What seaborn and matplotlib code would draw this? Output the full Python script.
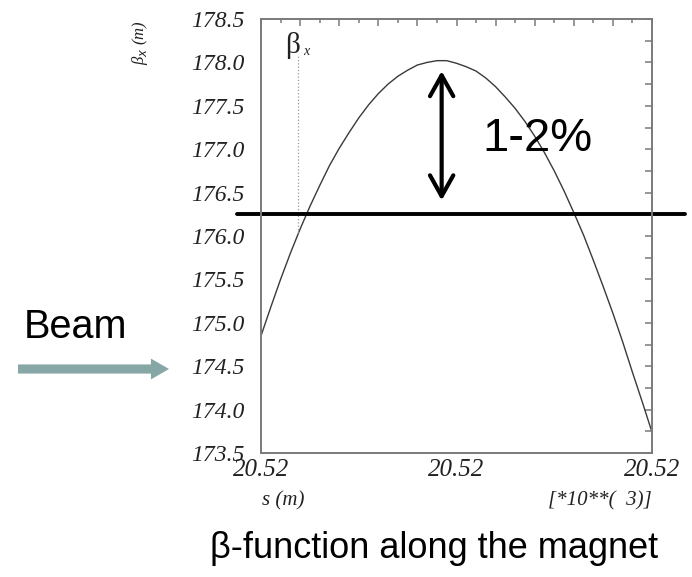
import numpy as np
import pandas as pd
import matplotlib
matplotlib.use("Agg")
import matplotlib.pyplot as plt
import seaborn as sns
from matplotlib.ticker import MultipleLocator, FixedLocator, FormatStrFormatter

# ---- data (s in units of 10**3 m, beta in m) ----
s_frac = [0.000, 0.025, 0.050, 0.075, 0.100, 0.125, 0.150, 0.175, 0.200, 0.225,
          0.250, 0.275, 0.300, 0.325, 0.350, 0.375, 0.400, 0.425, 0.450, 0.475,
          0.500, 0.525, 0.550, 0.575, 0.600, 0.625, 0.650, 0.675, 0.700, 0.725,
          0.750, 0.775, 0.800, 0.825, 0.850, 0.875, 0.900, 0.925, 0.950, 0.975, 1.000]
beta_x = [174.85, 175.18, 175.50, 175.80, 176.08, 176.34, 176.58, 176.81, 177.01, 177.19,
          177.36, 177.51, 177.64, 177.75, 177.84, 177.91, 177.97, 178.00, 178.02, 178.02,
          177.99, 177.95, 177.90, 177.82, 177.72, 177.60, 177.47, 177.32, 177.15, 176.96,
          176.75, 176.52, 176.27, 176.01, 175.72, 175.42, 175.11, 174.78, 174.43, 174.09, 173.74]
s0 = 20.5200
s_span = 0.0010
s_vals = [s0 + f * s_span for f in s_frac]
y_ticks = [173.5, 174.0, 174.5, 175.0, 175.5, 176.0, 176.5, 177.0, 177.5, 178.0, 178.5]
level_line = 176.25
marker_s_frac = 0.095
marker_beta = 176.03

df = pd.DataFrame({"s": s_vals, "beta": beta_x})

sns.set_style("white")
serif = ["Liberation Serif", "DejaVu Serif"]
sans = ["Liberation Sans", "DejaVu Sans"]

fig = plt.figure(figsize=(6.92, 5.77), dpi=100)
ax = fig.add_axes([261/692, 1 - 453/577, (652 - 261)/692, (453 - 19)/577])

sns.lineplot(data=df, x="s", y="beta", ax=ax, color="#3a3a3a", linewidth=1.0)

ax.set_xlim(s0, s0 + s_span)
ax.set_ylim(173.5, 178.5)

spine_col = "#7a7a7a"
for sp in ax.spines.values():
    sp.set_color(spine_col)
    sp.set_linewidth(1.4)

ax.xaxis.set_major_locator(FixedLocator([s0, s0 + s_span/2, s0 + s_span]))
ax.xaxis.set_minor_locator(MultipleLocator(s_span/10))
ax.xaxis.set_major_formatter(FormatStrFormatter("%.2f"))
ax.yaxis.set_major_locator(FixedLocator(y_ticks))
ax.yaxis.set_minor_locator(MultipleLocator(0.25))
ax.yaxis.set_major_formatter(FormatStrFormatter("%.1f"))

ax.tick_params(axis="both", which="both", direction="out", color=spine_col, width=1.1)
ax.tick_params(axis="both", which="major", length=6)
ax.tick_params(axis="both", which="minor", length=6)
ax.tick_params(axis="x", which="major", pad=-2)
ax.tick_params(axis="y", which="major", pad=6)
for lab in ax.get_xticklabels() + ax.get_yticklabels():
    lab.set_family(serif)
    lab.set_style("italic")
    lab.set_color("#222222")
for lab in ax.get_yticklabels():
    lab.set_fontsize(17)
for lab in ax.get_xticklabels():
    lab.set_fontsize(18)

# inward ticks on top/right
secx = ax.secondary_xaxis("top")
secx.xaxis.set_major_locator(MultipleLocator(s_span/10))
secx.xaxis.set_minor_locator(MultipleLocator(s_span/20))
secx.tick_params(which="major", direction="in", length=5, color=spine_col, width=1.1, labeltop=False)
secx.tick_params(which="minor", direction="in", length=3, color=spine_col, width=1.1)
secx.spines["top"].set_visible(False)
secy = ax.secondary_yaxis("right")
secy.yaxis.set_major_locator(MultipleLocator(0.25))
secy.tick_params(direction="in", length=5, color=spine_col, width=1.1, labelright=False)
secy.spines["right"].set_visible(False)

ax.set_xlabel("")
ax.set_ylabel("")

# axis texts
fig.text(262/692, 1 - 501/577, "s (m)", family=serif, style="italic", fontsize=15,
         ha="left", va="center", color="#222222")
fig.text(652/692, 1 - 501/577, "[*10**(  3)]", family=serif, style="italic", fontsize=15,
         ha="right", va="center", color="#222222")
fig.text(140/692, 1 - 43/577, r"β$_x$ (m)", family=serif, style="italic", fontsize=12,
         rotation=90, ha="center", va="center", color="#222222")

# beta_x marker
xm = s0 + marker_s_frac * s_span
ax.plot([xm, xm], [marker_beta, 178.09], color="#9a9a9a", linestyle=":", linewidth=0.9)
ax.text(xm - 0.015 * s_span, 178.19, "β", family=serif, fontsize=21, ha="center", va="center",
        color="#222222")
ax.text(xm + 0.012 * s_span, 178.13, "x", family=serif, style="italic", fontsize=10,
        ha="left", va="center", color="#222222")

# horizontal level line extending beyond axes
ax.axhline(level_line, xmin=(237 - 261)/391, xmax=(685 - 261)/391, color="black",
           linewidth=2.8, clip_on=False)

# double-headed arrow
xa = s0 + 0.462 * s_span
ax.annotate("", xy=(xa, 177.90), xytext=(xa, 176.41),
            arrowprops=dict(arrowstyle="<->,head_length=0.75,head_width=0.42",
                            color="black", lw=3, mutation_scale=20,
                            shrinkA=0, shrinkB=0))
ax.text(s0 + 0.565 * s_span, 177.12, "1-2%", family=sans, fontsize=34,
        ha="left", va="center", color="black")

# Beam label and arrow
fig.text(24/692, 1 - 327/577, "Beam", family=sans, fontsize=28.5, ha="left", va="center",
         color="black")
fig.patches.append(matplotlib.patches.FancyArrowPatch(
    posA=(18/692, 1 - 369/577), posB=(169/692, 1 - 369/577),
    transform=fig.transFigure, figure=fig,
    arrowstyle="simple,head_length=0.65,head_width=0.75,tail_width=0.33",
    mutation_scale=20, color="#87a6a6", lw=0, shrinkA=0, shrinkB=0))

# caption
fig.text(434/692, 1 - 548/577, "β-function along the magnet", family=sans, fontsize=26,
         ha="center", va="center", color="black")

fig.savefig("out.png", dpi=100)
